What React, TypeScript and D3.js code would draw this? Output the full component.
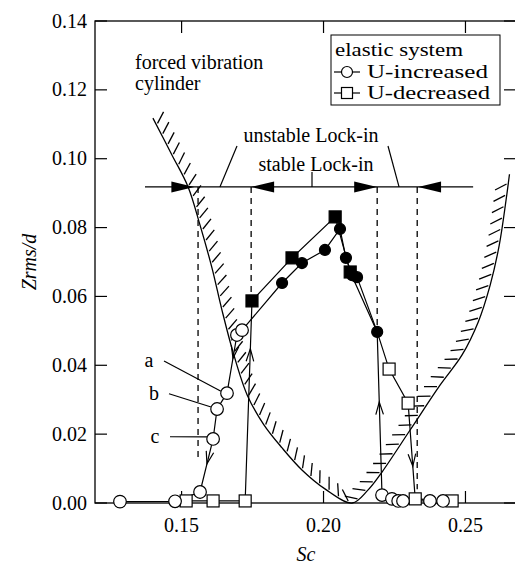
import { useEffect, useRef, useState } from "react";
import * as d3 from "d3";

const width = 515;
const height = 574;

const xTicks = [0.15, 0.2, 0.25];
const yTicks = [0, 0.02, 0.04, 0.06, 0.08, 0.1, 0.12, 0.14];

// elastic system, U-increased (circles); locked = filled symbol
const incSc = [0.1283, 0.1477, 0.1565, 0.1611, 0.1625, 0.166, 0.1695, 0.1713, 0.1854, 0.1924, 0.2005, 0.2058, 0.2079, 0.2101, 0.2118, 0.2189, 0.2206, 0.2241, 0.2263, 0.228, 0.2375, 0.2421];
const incZ = [0.0004, 0.0005, 0.0032, 0.0186, 0.0273, 0.0319, 0.0488, 0.0502, 0.0639, 0.0697, 0.0735, 0.0796, 0.0712, 0.0662, 0.0656, 0.0497, 0.0023, 0.0012, 0.0006, 0.0006, 0.0006, 0.0006];
const incLocked = [0, 0, 0, 0, 0, 0, 0, 0, 1, 1, 1, 1, 1, 1, 1, 1, 0, 0, 0, 0, 0, 0];

// elastic system, U-decreased (squares)
const decSc = [0.2453, 0.2323, 0.2298, 0.2231, 0.2189, 0.2094, 0.2041, 0.1889, 0.1748, 0.1724, 0.1611, 0.1516];
const decZ = [0.0006, 0.0012, 0.029, 0.0389, 0.0497, 0.0671, 0.0831, 0.0712, 0.0587, 0.0006, 0.0006, 0.0006];
const decMark = ["open", "open", "open", "open", "none", "filled", "filled", "filled", "filled", "open", "open", "open"];

// forced vibration cylinder: lock-in boundary
const bndSc = [0.1399, 0.1466, 0.1523, 0.1565, 0.1607, 0.1642, 0.1681, 0.1731, 0.179, 0.1854, 0.1924, 0.2005, 0.2101, 0.2157, 0.2206, 0.2305, 0.2411, 0.2488, 0.2545, 0.2587, 0.2619, 0.2643, 0.2655];
const bndZ = [0.1118, 0.1011, 0.0918, 0.0807, 0.0683, 0.0561, 0.0439, 0.0314, 0.0227, 0.016, 0.0096, 0.0041, 0, 0.0038, 0.009, 0.0212, 0.0343, 0.043, 0.0526, 0.0633, 0.0749, 0.088, 0.0955];

// lock-in ranges
const lockZ = 0.0918;
const lockLine = [0.1371, 0.2527];
const unstableLock = [0.1545, 0.2333];
const stableLock = [0.1745, 0.2189];
const dashSc = [0.1558, 0.1745, 0.2189, 0.233];
const dashEndZ = [0.012, 0.0587, 0.0497, 0.004];

// jump arrows on the response curves: [fromSc, fromZ, toSc, toZ, position]
const jumpArrows = [
  [0.1695, 0.0488, 0.166, 0.0319, 0.4],
  [0.1611, 0.0186, 0.1565, 0.0032, 0.47],
  [0.1724, 0.0006, 0.1748, 0.0587, 0.76],
  [0.2206, 0.0023, 0.2189, 0.0497, 0.57],
  [0.2298, 0.029, 0.2323, 0.0012, 0.66],
];

// labelled points a, b, c
const pointLabels = ["a", "b", "c"];
const pointLabelIdx = [5, 4, 3];
const pointLabelZ = [0.0395, 0.03, 0.0175];

export default function App() {
  const x = d3.scaleLinear().domain([0.1195, 0.2678]).range([95, 516]);
  const y = d3.scaleLinear().domain([0, 0.14]).range([503, 21]);
  const font = "'Liberation Serif', 'Times New Roman', serif";

  const line = d3.line<[number, number]>().x((d) => x(d[0])).y((d) => y(d[1]));
  const bndLine = d3
    .line<[number, number]>()
    .x((d) => x(d[0]))
    .y((d) => y(d[1]))
    .curve(d3.curveCatmullRom.alpha(0.5));

  const incPts = incSc.map((s, i) => [s, incZ[i]] as [number, number]);
  const decPts = decSc.map((s, i) => [s, decZ[i]] as [number, number]);
  const bndPts = bndSc.map((s, i) => [s, bndZ[i]] as [number, number]);

  const curveRef = useRef<SVGPathElement>(null);
  const [hatches, setHatches] = useState<number[][]>([]);

  // hatch strokes on the inner side of the boundary
  useEffect(() => {
    const p = curveRef.current;
    if (!p) return;
    const L = p.getTotalLength();
    const th = (35 * Math.PI) / 180;
    const out: number[][] = [];
    for (let s = 8; s < L - 3; s += 11.5) {
      const a = p.getPointAtLength(s);
      const b = p.getPointAtLength(s + 1);
      let tx = b.x - a.x;
      let ty = b.y - a.y;
      const n = Math.hypot(tx, ty) || 1;
      tx /= n;
      ty /= n;
      const nx = ty;
      const ny = -tx;
      const hx = nx * Math.cos(th) + ny * Math.sin(th);
      const hy = -nx * Math.sin(th) + ny * Math.cos(th);
      out.push([a.x + hx * 2, a.y + hy * 2, a.x + hx * 15, a.y + hy * 15]);
    }
    setHatches(out);
  }, []);

  // open "V" arrowhead pointing along (dx, dy)
  const chevron = (px: number, py: number, dx: number, dy: number) => {
    const n = Math.hypot(dx, dy);
    const ux = dx / n;
    const uy = dy / n;
    const len = 13;
    const ang = (17 * Math.PI) / 180;
    const a1x = -(ux * Math.cos(ang) - uy * Math.sin(ang));
    const a1y = -(ux * Math.sin(ang) + uy * Math.cos(ang));
    const a2x = -(ux * Math.cos(-ang) - uy * Math.sin(-ang));
    const a2y = -(ux * Math.sin(-ang) + uy * Math.cos(-ang));
    return `M${px + a1x * len},${py + a1y * len}L${px},${py}L${px + a2x * len},${py + a2y * len}`;
  };

  const tri = (tipSc: number, dir: number) => {
    const tx = x(tipSc);
    const ty = y(lockZ);
    const bx = tx - dir * 23;
    return `M${tx},${ty}L${bx},${ty - 5.5}L${bx},${ty + 5.5}Z`;
  };

  const ly = y(lockZ);

  return (
    <svg width={width} height={height} style={{ position: "absolute", left: 0, top: 0, background: "#fff" }} fontFamily={font}>
      {/* frame */}
      <rect x={95} y={21} width={421} height={482} fill="none" stroke="#000" strokeWidth={1.3} />
      {xTicks.map((t) => (
        <g key={t}>
          <line x1={x(t)} x2={x(t)} y1={503} y2={491} stroke="#000" strokeWidth={1.2} />
          <line x1={x(t)} x2={x(t)} y1={21} y2={33} stroke="#000" strokeWidth={1.2} />
          <text x={x(t)} y={532} fontSize={20} textAnchor="middle">
            {t.toFixed(2)}
          </text>
        </g>
      ))}
      {yTicks.map((t) => (
        <g key={t}>
          <line x1={95} x2={107} y1={y(t)} y2={y(t)} stroke="#000" strokeWidth={1.2} />
          <line x1={504} x2={516} y1={y(t)} y2={y(t)} stroke="#000" strokeWidth={1.2} />
          <text x={87} y={y(t)} dy="0.33em" fontSize={20} textAnchor="end">
            {t.toFixed(2)}
          </text>
        </g>
      ))}
      <text x={306} y={561} fontSize={20} fontStyle="italic" textAnchor="middle">
        Sc
      </text>
      <text transform={`translate(36,262) rotate(-90)`} fontSize={20} fontStyle="italic" textAnchor="middle">
        Zrms/d
      </text>

      {/* forced vibration lock-in boundary with hatching */}
      <path ref={curveRef} d={bndLine(bndPts) || ""} fill="none" stroke="#000" strokeWidth={1.3} />
      {hatches.map((h, i) => (
        <line key={i} x1={h[0]} y1={h[1]} x2={h[2]} y2={h[3]} stroke="#000" strokeWidth={1.3} />
      ))}
      <text x={135} y={69} fontSize={20}>forced vibration</text>
      <text x={135} y={90} fontSize={20}>cylinder</text>

      {/* lock-in ranges */}
      <line x1={x(lockLine[0])} x2={x(lockLine[1])} y1={ly} y2={ly} stroke="#000" strokeWidth={1.2} />
      {dashSc.map((s, i) => (
        <line key={i} x1={x(s)} x2={x(s)} y1={ly} y2={y(dashEndZ[i])} stroke="#000" strokeWidth={1.3} strokeDasharray="6,5" />
      ))}
      <path d={tri(unstableLock[0], 1)} fill="#000" />
      <path d={tri(unstableLock[1], -1)} fill="#000" />
      <path d={tri(stableLock[0], -1)} fill="#000" />
      <path d={tri(stableLock[1], 1)} fill="#000" />
      <line x1={312} x2={312} y1={ly} y2={ly - 15} stroke="#000" strokeWidth={1.2} />
      <text x={316} y={171} fontSize={20} textAnchor="middle">stable Lock-in</text>
      <text x={311} y={142} fontSize={20} textAnchor="middle">unstable Lock-in</text>
      <line x1={x(0.1635)} x2={237} y1={ly} y2={146} stroke="#000" strokeWidth={1.2} />
      <line x1={x(0.2266)} x2={388} y1={ly} y2={146} stroke="#000" strokeWidth={1.2} />

      {/* response curves */}
      <path d={line(decPts) || ""} fill="none" stroke="#000" strokeWidth={1.2} />
      <path d={line(incPts) || ""} fill="none" stroke="#000" strokeWidth={1.2} />
      {jumpArrows.map((a, i) => {
        const x0 = x(a[0]);
        const y0 = y(a[1]);
        const x1 = x(a[2]);
        const y1 = y(a[3]);
        const px = x0 + (x1 - x0) * a[4];
        const py = y0 + (y1 - y0) * a[4];
        return <path key={i} d={chevron(px, py, x1 - x0, y1 - y0)} fill="none" stroke="#000" strokeWidth={1.2} />;
      })}
      {decPts.map((d, i) =>
        decMark[i] === "none" ? null : (
          <rect
            key={i}
            x={x(d[0]) - 6}
            y={y(d[1]) - 6}
            width={12}
            height={12}
            fill={decMark[i] === "filled" ? "#000" : "#fff"}
            stroke="#000"
            strokeWidth={1.2}
          />
        )
      )}
      {incPts.map((d, i) => (
        <circle
          key={i}
          cx={x(d[0])}
          cy={y(d[1])}
          r={incLocked[i] ? 5.5 : 6.3}
          fill={incLocked[i] ? "#000" : "#fff"}
          stroke="#000"
          strokeWidth={1.2}
        />
      ))}

      {/* a, b, c labels */}
      {pointLabels.map((lab, i) => {
        const px = x(incSc[pointLabelIdx[i]]);
        const py = y(incZ[pointLabelIdx[i]]);
        const tx = [149, 154, 155][i];
        const ty = y(pointLabelZ[i]);
        return (
          <g key={lab}>
            <text x={tx} y={ty} fontSize={20} textAnchor="middle">
              {lab}
            </text>
            <line x1={tx + 15} y1={ty - 6} x2={px - 6} y2={py - 2} stroke="#000" strokeWidth={1.2} />
          </g>
        );
      })}

      {/* legend */}
      <rect x={331} y={35} width={169} height={70} fill="#fff" stroke="#000" strokeWidth={1} />
      <text x={335} y={56} fontSize={18} textLength={128} lengthAdjust="spacingAndGlyphs">
        elastic system
      </text>
      <line x1={334} x2={360} y1={72} y2={72} stroke="#000" strokeWidth={1.2} />
      <circle cx={347} cy={72} r={5.5} fill="#fff" stroke="#000" strokeWidth={1.2} />
      <text x={367} y={78} fontSize={18} textLength={121} lengthAdjust="spacingAndGlyphs">
        U-increased
      </text>
      <line x1={334} x2={360} y1={93} y2={93} stroke="#000" strokeWidth={1.2} />
      <rect x={341.5} y={87.5} width={11} height={11} fill="#fff" stroke="#000" strokeWidth={1.2} />
      <text x={367} y={99} fontSize={18} textLength={123} lengthAdjust="spacingAndGlyphs">
        U-decreased
      </text>
    </svg>
  );
}
